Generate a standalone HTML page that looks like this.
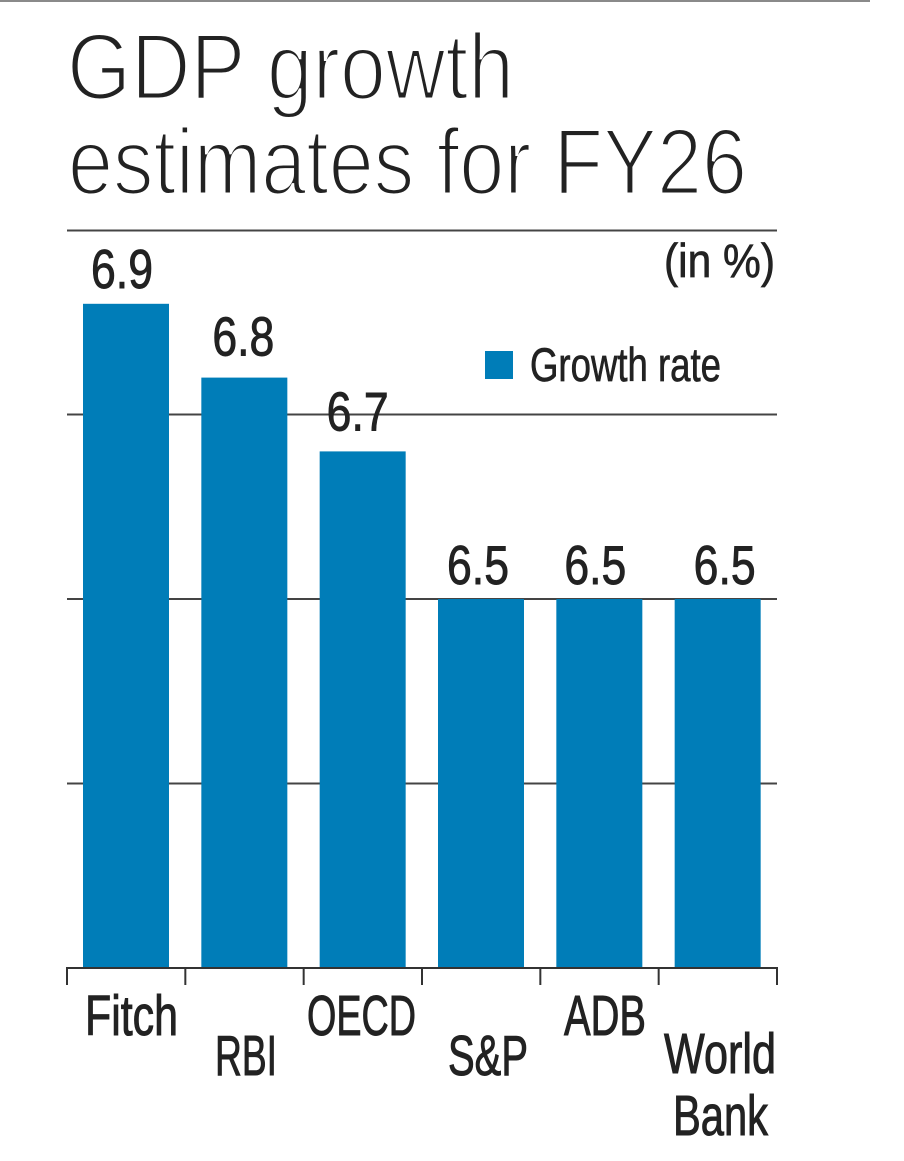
<!DOCTYPE html>
<html lang="en">
<head>
<meta charset="utf-8">
<title>GDP growth estimates for FY26</title>
<style>
html,body{margin:0;padding:0;background:#fff;width:904px;height:1161px;overflow:hidden}
svg{display:block}
text{font-family:"Liberation Sans",sans-serif;fill:#222}
.title{font-size:94px;stroke:#fff;stroke-width:3px;paint-order:normal}
.val{font-size:55px;stroke:#222;stroke-width:.9px}
.cat{font-size:57px;stroke:#222;stroke-width:1px}
.note{font-size:47px;stroke:#222;stroke-width:.7px}
</style>
</head>
<body>
<svg id="chart" xmlns="http://www.w3.org/2000/svg" width="904" height="1161" viewBox="0 0 904 1161">
  <rect x="0" y="0" width="870" height="2" fill="#8a8a8a"/>
  <text class="title" x="67" y="99" textLength="447" lengthAdjust="spacingAndGlyphs">GDP growth</text>
  <text class="title" x="68" y="194" textLength="679" lengthAdjust="spacingAndGlyphs">estimates for FY26</text>
  <rect x="67" y="229.5" width="710" height="2" fill="#444"/>
  <text class="note" x="664" y="277" textLength="111" lengthAdjust="spacingAndGlyphs">(in %)</text>
  <g id="grid"></g>
  <g id="bars"></g>
  <g id="axis"></g>
  <g id="values"></g>
  <g id="cats"></g>
  <g>
    <rect x="485" y="351" width="28" height="28" fill="#007db8"/>
    <text class="note" x="530" y="381" textLength="191" lengthAdjust="spacingAndGlyphs">Growth rate</text>
  </g>
</svg>
<script>
const categories = ["Fitch", "RBI", "OECD", "S&P", "ADB", "World Bank"];
const growthValues = [6.9, 6.8, 6.7, 6.5, 6.5, 6.5];
const valueLabels = ["6.9", "6.8", "6.7", "6.5", "6.5", "6.5"];
const gridTicks = [6.25, 6.5, 6.75];

const NS = "http://www.w3.org/2000/svg";
const X0 = 67, X1 = 777, BASE_Y = 968, BAR_W = 86, BAR_INSET = 16;
const yDomain = [6, 7];
const Y_TOP = 230;

function yScale(v) {
  return BASE_Y - (v - yDomain[0]) / (yDomain[1] - yDomain[0]) * (BASE_Y - Y_TOP);
}
function bandLeft(i) {
  return X0 + i * (X1 - X0) / categories.length;
}
function barLeft(i) {
  return bandLeft(i) + BAR_INSET;
}
function make(tag, attrs, parent) {
  const el = document.createElementNS(NS, tag);
  Object.keys(attrs).forEach(function (k) { el.setAttribute(k, attrs[k]); });
  parent.appendChild(el);
  return el;
}

const gridG = document.getElementById("grid");
const barsG = document.getElementById("bars");
const axisG = document.getElementById("axis");
const valuesG = document.getElementById("values");
const catsG = document.getElementById("cats");

gridTicks.forEach(function (t) {
  const line = make("line", { x1: X0, x2: X1, y1: yScale(t), y2: yScale(t), stroke: "#444", "stroke-width": 2 }, gridG);
  
  
});

growthValues.forEach(function (v, i) {
  const top = yScale(v);
  const bar = make("rect", { x: barLeft(i), y: top, width: BAR_W, height: BASE_Y - top, fill: "#007db8" }, barsG);
  
  
});

const axisLine = make("line", { x1: X0 - 1, x2: X1 + 1, y1: BASE_Y, y2: BASE_Y, stroke: "#333", "stroke-width": 2 }, axisG);


for (let i = 0; i <= categories.length; i++) {
  const tx = bandLeft(i);
  const tick = make("line", { x1: tx, x2: tx, y1: BASE_Y, y2: BASE_Y + 17, stroke: "#333", "stroke-width": 2 }, axisG);
  
  
}

/* hand-lettered label placement in the original artwork */
const valueShift = [-4, -1, -5, -3, -4, 7];
const valueGap = [16, 22, 21, 15, 15, 15];
growthValues.forEach(function (v, i) {
  const cx = barLeft(i) + BAR_W / 2 + valueShift[i];
  const label = make("text", {
    class: "val", x: cx, y: yScale(v) - valueGap[i], "text-anchor": "middle",
    textLength: 62, lengthAdjust: "spacingAndGlyphs"
  }, valuesG);
  label.textContent = valueLabels[i];
  
  
});

const catLayout = [
  [{ t: 0, x: 85, y: 1035, w: 93 }],
  [{ t: 0, x: 215, y: 1075, w: 62 }],
  [{ t: 0, x: 307, y: 1035, w: 109 }],
  [{ t: 0, x: 448, y: 1075, w: 80 }],
  [{ t: 0, x: 564, y: 1035, w: 82 }],
  [{ t: 0, x: 664, y: 1073, w: 112 }, { t: 1, x: 673, y: 1135, w: 95 }]
];
categories.forEach(function (name, i) {
  const words = i === 5 ? name.split(" ") : [name];
  catLayout[i].forEach(function (p) {
    const label = make("text", {
      class: "cat", x: p.x, y: p.y, textLength: p.w, lengthAdjust: "spacingAndGlyphs"
    }, catsG);
    label.textContent = words[p.t];
    
    
  });
});
</script>
</body>
</html>
